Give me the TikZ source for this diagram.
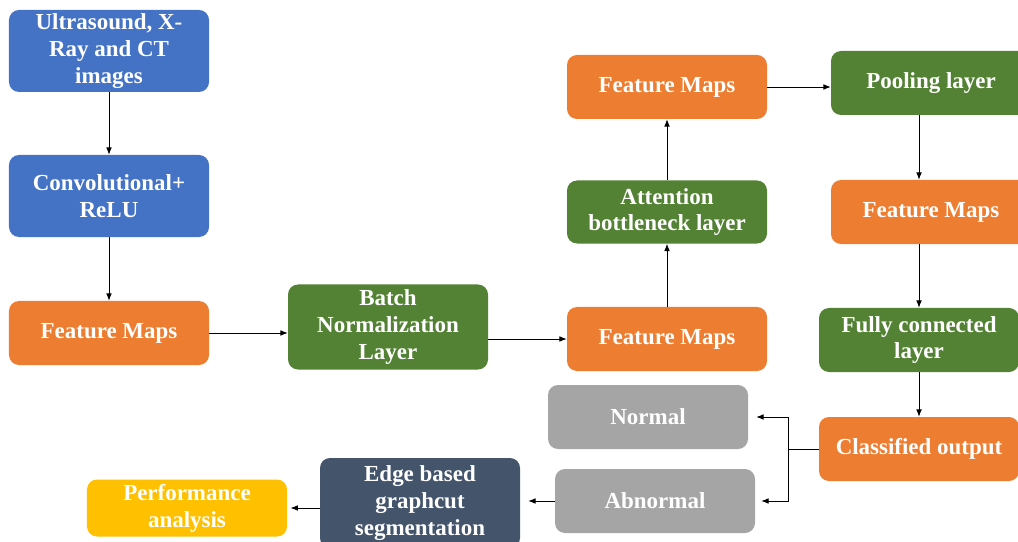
\documentclass[tikz,border=0pt]{standalone}
\usepackage{fontspec}
\setmainfont{Liberation Serif}[BoldFont={Liberation Serif Bold}]
\usepackage{tikz}
\usetikzlibrary{arrows.meta}

\definecolor{blu}{HTML}{4472C4}
\definecolor{orn}{HTML}{ED7D31}
\definecolor{grn}{HTML}{548235}
\definecolor{gry}{HTML}{A5A5A5}
\definecolor{slt}{HTML}{44546A}
\definecolor{ylw}{HTML}{FFC000}

\begin{document}
\begin{tikzpicture}[x=0.03cm,y=-0.03cm,
box/.style={rectangle,rounded corners=0.3cm,minimum width=6cm,minimum height=1.92cm,
  text=white,align=center,inner sep=2pt,font=\rmfamily\bfseries\fontsize{19.6}{23}\selectfont},
arr/.style={-{Latex[length=2.2mm,width=1.7mm]},line width=0.7pt}]
\useasboundingbox (0,0) rectangle (1018,542);
\node (A) [box,fill=blu,minimum height=2.46cm] at (109,51) {Ultrasound, X-\\Ray and CT\\images};
\node (B) [box,fill=blu,minimum height=2.46cm] at (109,196) {Convolutional+\\ReLU};
\node (C) [box,fill=orn] at (109,333) {Feature Maps};
\node (D) [box,fill=grn,minimum height=2.55cm] at (388,327) {Batch\\Normalization\\Layer};
\node (E) [box,fill=orn] at (667,339) {Feature Maps};
\node (F) [box,fill=grn,minimum height=1.89cm] at (667,212) {Attention\\bottleneck layer};
\node (G) [box,fill=orn] at (667,87) {Feature Maps};
\node (H) [box,fill=grn] at (931,83) {Pooling layer};
\node (I) [box,fill=orn] at (931,212) {Feature Maps};
\node (J) [box,fill=grn] at (919,340) {Fully connected\\layer};
\node (K) [box,fill=orn] at (919,449) {Classified output};
\node (L) [box,fill=gry] at (648,417) {Normal};
\node (M) [box,fill=gry] at (655,501) {Abnormal};
\node (N) [box,fill=slt,minimum height=2.7cm] at (420,503) {Edge based\\graphcut\\segmentation};
\node (O) [box,fill=ylw,minimum height=1.71cm] at (187,508) {Performance\\analysis};
\coordinate (P) at (788,449);
\draw[arr] (A) -- (B);
\draw[arr] (B) -- (C);
\draw[arr] (C) -- (C -| D.west);
\draw[arr] (D.east |- E.west) -- (E.west);
\draw[arr] (E) -- (F);
\draw[arr] (F) -- (G);
\draw[arr] (G.east) -- (G.east -| H.west);
\draw[arr] (H.south -| J) -- (I.north -| J);
\draw[arr] (I.south -| J) -- (J.north);
\draw[arr] (J) -- (K);
\draw[arr,shorten >=0.24cm] (K.west) -- (P) |- (L.east);
\draw[arr,shorten >=0.18cm] (P) |- (M.east);
\draw[arr,shorten >=0.24cm] (M.west) -- (M.west -| N.east);
\draw[arr,shorten >=0.1cm] (N.west |- O.east) -- (O.east);
\end{tikzpicture}
\end{document}
